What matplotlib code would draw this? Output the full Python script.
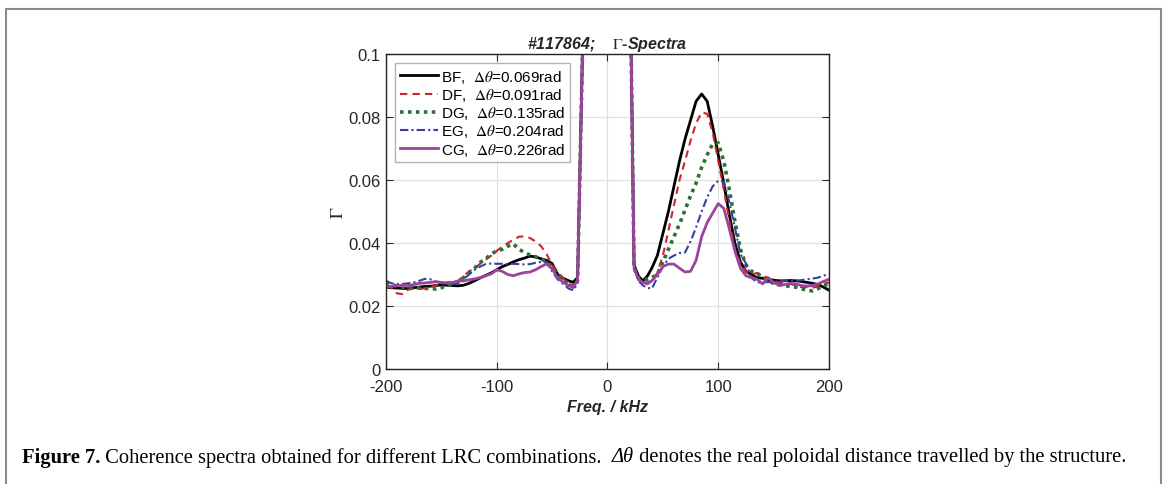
import numpy as np
import matplotlib
matplotlib.use("Agg")
import matplotlib.pyplot as plt
from matplotlib.patches import Rectangle

plt.rcParams['font.family'] = ['Liberation Sans', 'DejaVu Sans']
plt.rcParams['mathtext.fontset'] = 'stix'
plt.rcParams['axes.unicode_minus'] = False

# frequency grid (kHz)
freq = [-200, -195, -190, -185, -180, -175, -170, -165, -160, -155, -150, -145,
        -140, -135, -130, -125, -120, -115, -110, -105, -100, -95, -90, -85,
        -80, -75, -70, -65, -60, -55, -50, -45, -40, -35, -31, -27, -22, -12,
        0, 12, 21, 24, 28, 32, 36, 40, 45, 50, 55, 60, 65, 70, 75, 80, 85, 90,
        95, 100, 105, 110, 115, 120, 125, 130, 135, 140, 145, 150, 155, 160,
        165, 170, 175, 180, 185, 190, 195, 200]

gamma_bf = [0.026, 0.0258, 0.0257, 0.0256, 0.0255, 0.0258, 0.026, 0.0262, 0.0263, 0.0265, 0.0267, 0.0266,
            0.0265, 0.0264, 0.0266, 0.0272, 0.028, 0.0289, 0.0297, 0.0305, 0.0315, 0.0325, 0.0332, 0.034,
            0.0347, 0.0352, 0.0358, 0.0356, 0.035, 0.0345, 0.0335, 0.030, 0.0288, 0.028, 0.0275, 0.029, 0.11, 0.6,
            1.0, 0.6, 0.11, 0.033, 0.0295, 0.028, 0.0295, 0.032, 0.036, 0.043, 0.050, 0.058, 0.066, 0.073, 0.079, 0.085, 0.0873, 0.085,
            0.077, 0.068, 0.059, 0.049, 0.040, 0.034, 0.031, 0.030, 0.029, 0.0288, 0.0284, 0.0282, 0.028, 0.028,
            0.0281, 0.028, 0.0278, 0.0275, 0.0272, 0.0268, 0.026, 0.025]

gamma_df = [0.0265, 0.0258, 0.0240, 0.0238, 0.0252, 0.0255, 0.0254, 0.0256, 0.026, 0.0265, 0.027, 0.0275,
            0.0278, 0.028, 0.0295, 0.031, 0.032, 0.0334, 0.0347, 0.036, 0.0375, 0.0388, 0.040, 0.041,
            0.042, 0.0421, 0.0416, 0.0405, 0.039, 0.0365, 0.033, 0.031, 0.0288, 0.027, 0.0265, 0.028, 0.11, 0.6,
            1.0, 0.6, 0.11, 0.032, 0.028, 0.0275, 0.0275, 0.028, 0.0305, 0.036, 0.044, 0.052, 0.060, 0.066, 0.0725, 0.078, 0.0815, 0.081,
            0.075, 0.066, 0.057, 0.047, 0.038, 0.0335, 0.031, 0.030, 0.0305, 0.0295, 0.029, 0.028, 0.0275, 0.027,
            0.027, 0.0265, 0.026, 0.026, 0.0258, 0.0262, 0.027, 0.0275]

gamma_dg = [0.0275, 0.027, 0.0262, 0.026, 0.026, 0.0258, 0.0257, 0.0256, 0.0255, 0.0254, 0.0258, 0.0265,
            0.027, 0.0275, 0.029, 0.0305, 0.032, 0.0338, 0.035, 0.0365, 0.0375, 0.038, 0.039, 0.0397,
            0.038, 0.037, 0.0362, 0.0356, 0.035, 0.034, 0.0325, 0.030, 0.0285, 0.027, 0.026, 0.028, 0.11, 0.6,
            1.0, 0.6, 0.11, 0.032, 0.029, 0.0285, 0.0285, 0.029, 0.030, 0.034, 0.038, 0.042, 0.046, 0.0505, 0.055, 0.059, 0.064, 0.068,
            0.0715, 0.0718, 0.066, 0.057, 0.047, 0.038, 0.033, 0.031, 0.0305, 0.029, 0.028, 0.0272, 0.0268, 0.0265,
            0.0262, 0.026, 0.0255, 0.025, 0.0248, 0.0255, 0.0265, 0.027]

gamma_eg = [0.028, 0.0272, 0.027, 0.027, 0.0272, 0.0275, 0.028, 0.0286, 0.0285, 0.0278, 0.0272, 0.027,
            0.027, 0.0272, 0.0285, 0.030, 0.0315, 0.0325, 0.0333, 0.0335, 0.0334, 0.0334, 0.0333, 0.0334,
            0.0333, 0.0332, 0.0333, 0.0337, 0.034, 0.0338, 0.031, 0.0285, 0.027, 0.0255, 0.025, 0.027, 0.11, 0.6,
            1.0, 0.6, 0.11, 0.032, 0.028, 0.0265, 0.0258, 0.0255, 0.029, 0.0325, 0.035, 0.036, 0.0368, 0.037, 0.0405, 0.045, 0.050, 0.0545,
            0.058, 0.0598, 0.0595, 0.053, 0.045, 0.0365, 0.0335, 0.029, 0.0275, 0.0275, 0.0276, 0.0276, 0.0278, 0.028,
            0.028, 0.028, 0.0282, 0.0285, 0.0287, 0.029, 0.0297, 0.030]

gamma_cg = [0.0262, 0.0262, 0.0265, 0.0266, 0.0265, 0.0268, 0.0272, 0.0273, 0.0275, 0.0277, 0.0275, 0.0273,
            0.0275, 0.0279, 0.028, 0.0283, 0.0286, 0.029, 0.0296, 0.0302, 0.0315, 0.031, 0.030, 0.0296,
            0.0302, 0.0306, 0.0308, 0.0315, 0.0325, 0.0334, 0.0318, 0.029, 0.0275, 0.0265, 0.026, 0.028, 0.11, 0.6,
            1.0, 0.6, 0.11, 0.032, 0.0285, 0.0275, 0.027, 0.028, 0.030, 0.0325, 0.0333, 0.0333, 0.032, 0.0308, 0.031, 0.0345, 0.042, 0.0465,
            0.0495, 0.0525, 0.051, 0.0445, 0.0375, 0.032, 0.0296, 0.029, 0.0285, 0.027, 0.029, 0.0275, 0.0265, 0.0268,
            0.0272, 0.027, 0.0265, 0.0263, 0.0265, 0.027, 0.0278, 0.0285]

labels = [r'BF,  $\Delta\theta$=0.069rad', r'DF,  $\Delta\theta$=0.091rad',
          r'DG,  $\Delta\theta$=0.135rad', r'EG,  $\Delta\theta$=0.204rad',
          r'CG,  $\Delta\theta$=0.226rad']

fig = plt.figure(figsize=(11.65, 4.85), dpi=100)
ax = fig.add_axes([0.3313, 0.2371, 0.3803, 0.6495])

styles = [
    dict(color='black', ls='-', lw=2.0),
    dict(color='#d0232a', ls=(0, (3.5, 2.5)), lw=1.5),
    dict(color='#2f6e36', ls=(0, (1, 1.2)), lw=2.6),
    dict(color='#3540a0', ls=(0, (4, 1.5, 1, 1.5)), lw=1.5),
    dict(color='#9b449e', ls='-', lw=2.0),
]
series = [gamma_bf, gamma_df, gamma_dg, gamma_eg, gamma_cg]
for vals, st, lab in zip(series, styles, labels):
    ax.plot(freq, vals, label=lab, **st)

ax.set_xlim(-200, 200)
ax.set_ylim(0, 0.1)
ax.set_xticks([-200, -100, 0, 100, 200])
ax.set_yticks([0, 0.02, 0.04, 0.06, 0.08, 0.1])
ax.set_yticklabels(['0', '0.02', '0.04', '0.06', '0.08', '0.1'])
ax.grid(True, color='#e0e0e0', lw=0.9)
ax.set_axisbelow(True)
ax.tick_params(direction='in', top=True, right=True, labelsize=12,
               colors='#262626', length=5)
ax.tick_params(axis='x', pad=7)
ax.tick_params(axis='y', pad=4)
for sp in ax.spines.values():
    sp.set_color('#262626')
    sp.set_linewidth(1.0)

ax.set_xlabel('Freq. / kHz', fontsize=11.5, fontweight='bold', style='italic',
              color='#262626', labelpad=4)
ax.set_ylabel(r'$\Gamma$', fontsize=13, color='#262626', labelpad=1)
ax.set_title(r'#117864;    $\Gamma$-Spectra', fontsize=11.5, fontweight='bold',
             style='italic', color='#262626', pad=4)

leg = ax.legend(loc='upper left', fontsize=11, frameon=True, fancybox=False,
                handlelength=2.5, handletextpad=0.2, labelspacing=0.08,
                borderpad=0.3, borderaxespad=0.6)
leg.get_frame().set_edgecolor('#a0a0a0')
leg.get_frame().set_linewidth(1.0)

# outer frame of the figure panel
fig.add_artist(Rectangle((6 / 1165, -0.02), 1155 / 1165, 1.02 - 10 / 485,
                         transform=fig.transFigure, fill=False,
                         edgecolor='#8a8a8a', lw=1.5))

# caption, written as consecutive runs
cap_y = 1 - 458 / 485
runs = [('Figure 7.', dict(fontweight='bold')),
        (' Coherence spectra obtained for different LRC combinations.  ', {}),
        ('\u0394\u03b8', dict(style='italic')),
        (' denotes the real poloidal distance travelled by the structure.', {})]
x = 22
fig.canvas.draw()
renderer = fig.canvas.get_renderer()
for txt, kw in runs:
    t = fig.text(x / 1165, cap_y, txt, fontsize=14.8, family='Liberation Serif',
                 va='center', **kw)
    x = t.get_window_extent(renderer).x1

fig.savefig('out.png', dpi=100)
